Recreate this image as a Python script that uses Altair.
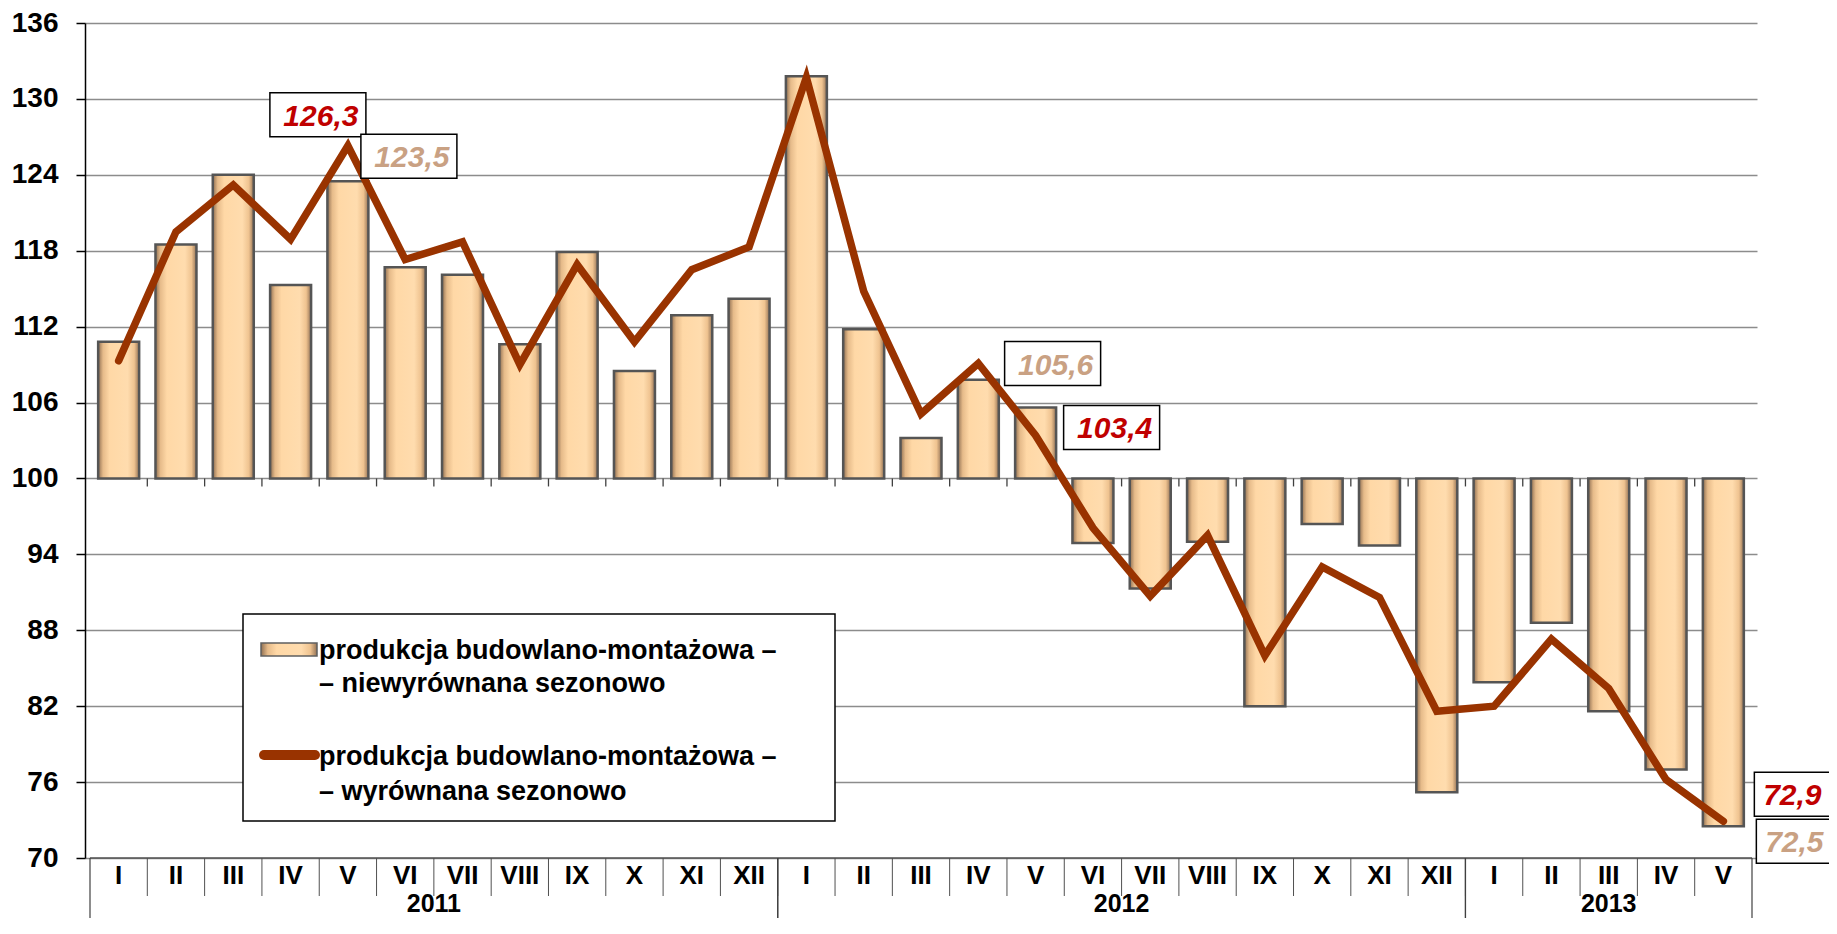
import altair as alt
import pandas as pd

# ---------------- data ----------------
months = ["I", "II", "III", "IV", "V", "VI", "VII", "VIII", "IX", "X", "XI", "XII",
          "I", "II", "III", "IV", "V", "VI", "VII", "VIII", "IX", "X", "XI", "XII",
          "I", "II", "III", "IV", "V"]
years = ["2011"] * 12 + ["2012"] * 12 + ["2013"] * 5

# produkcja budowlano-montażowa – niewyrównana sezonowo (bars, base = 100)
unadjusted = [110.8, 118.5, 124.0, 115.3, 123.5, 116.7, 116.1, 110.6, 117.9, 108.5, 112.9, 114.2,
              131.8, 111.8, 103.2, 107.8, 105.6, 94.9, 91.3, 95.0, 82.0, 96.4, 94.7, 75.2,
              83.9, 88.6, 81.6, 77.0, 72.5]
# produkcja budowlano-montażowa – wyrównana sezonowo (line)
adjusted = [109.3, 119.5, 123.2, 118.9, 126.3, 117.3, 118.7, 109.0, 116.9, 110.8, 116.5, 118.3,
            131.7, 114.8, 105.1, 109.1, 103.4, 96.1, 90.7, 95.5, 86.0, 93.0, 90.6, 81.6,
            82.0, 87.3, 83.4, 76.2, 72.9]

y_ticks = [70, 76, 82, 88, 94, 100, 106, 112, 118, 124, 130, 136]
base_value = 100

legend_labels = ["produkcja budowlano-montażowa –\n– niewyrównana sezonowo",
                 "produkcja budowlano-montażowa –\n– wyrównana sezonowo"]

# ---------------- styling ----------------
FONT = "Liberation Sans"
RED = "#C00000"
TAN = "#C9A183"
LINE_COLOR = "#993300"

# callouts: (category index, series, text colour, box offset x, box offset y, text shift x)
callouts = [
    (4, "line", RED, -30, -31, 3),
    (4, "bar", TAN, 61, -25, 3),
    (16, "bar", TAN, 17, -44, 3),
    (16, "line", RED, 76, -8, 3),
    (28, "line", RED, 79, -27, -10),
    (28, "bar", TAN, 81, 15, -10),
]

df = pd.DataFrame({
    "idx": list(range(len(months))),
    "month": months,
    "year": years,
    "bar": unadjusted,
    "line": adjusted,
})
one = pd.DataFrame({"k": [0]})

bar_fill = alt.Gradient(
    gradient="linear",
    stops=[
        alt.GradientStop(color="#8f6f52", offset=0),
        alt.GradientStop(color="#e6bb8a", offset=0.12),
        alt.GradientStop(color="#ffd8a6", offset=0.28),
        alt.GradientStop(color="#ffdcae", offset=0.72),
        alt.GradientStop(color="#efc390", offset=0.88),
        alt.GradientStop(color="#947356", offset=1),
    ],
    x1=0, x2=1, y1=0, y2=0,
)

xscale = alt.Scale(domain=[0, len(months)], nice=False, zero=False)
yscale = alt.Scale(domain=[y_ticks[0], y_ticks[-1]], nice=False, zero=False)
yaxis = alt.Axis(values=y_ticks, title=None, labelFont=FONT, labelFontSize=28,
                 labelFontWeight="bold", labelColor="black", tickSize=9,
                 tickColor="black", tickWidth=1.5, domainColor="black",
                 domainWidth=1.5, grid=True, gridColor="#8c8c8c", gridWidth=1.3,
                 labelPadding=18)


def X(field):
    return alt.X(field, type="quantitative", scale=xscale, axis=None)


def Y(field):
    return alt.Y(field, type="quantitative", scale=yscale, axis=yaxis)


def Yd(v):
    return alt.Y(datum=v, type="quantitative", scale=yscale, axis=yaxis)


base = alt.Chart(df).transform_calculate(c="datum.idx + 0.5")

bars = base.mark_bar(size=41, fill=bar_fill, stroke="#555555", strokeWidth=2.5).encode(
    x=X("c"), y=Y("bar"), y2=alt.Y2(datum=base_value)
)

ticks100 = base.transform_filter("datum.idx > 0").mark_rule(
    color="#404040", strokeWidth=1.3, y2Offset=8
).encode(x=X("idx"), y=Yd(base_value), y2=alt.Y2(datum=base_value))

bottom_rule = alt.Chart(one).mark_rule(color="#555555", strokeWidth=1.5).encode(
    x=alt.X(datum=0, type="quantitative", scale=xscale, axis=None),
    x2=alt.X2(datum=len(months)),
    y=Yd(y_ticks[0]),
)

month_seps = base.transform_filter("datum.idx > 0").mark_rule(
    color="#505050", strokeWidth=1, y2Offset=38
).encode(x=X("idx"), y=Yd(y_ticks[0]), y2=alt.Y2(datum=y_ticks[0]))

month_labels = base.mark_text(
    font=FONT, fontSize=26, fontWeight="bold", baseline="middle", dy=18, color="black"
).encode(x=X("c"), y=Yd(y_ticks[0]), text="month:N")

yagg = alt.Chart(df).transform_aggregate(
    lo="min(idx)", hi="max(idx)", groupby=["year"]
).transform_calculate(mid="(datum.lo + datum.hi + 1) / 2", end="datum.hi + 1")

year_seps_lo = yagg.mark_rule(color="#404040", strokeWidth=1.2, y2Offset=60).encode(
    x=X("lo"), y=Yd(y_ticks[0]), y2=alt.Y2(datum=y_ticks[0])
)
year_seps_hi = yagg.mark_rule(color="#404040", strokeWidth=1.2, y2Offset=60).encode(
    x=X("end"), y=Yd(y_ticks[0]), y2=alt.Y2(datum=y_ticks[0])
)
year_labels = yagg.mark_text(
    font=FONT, fontSize=25, fontWeight="bold", baseline="middle", dy=46, color="black"
).encode(x=X("mid"), y=Yd(y_ticks[0]), text="year:N")

line = base.mark_line(
    color=LINE_COLOR, strokeWidth=7.5, strokeCap="round", strokeJoin="miter"
).encode(x=X("c"), y=Y("line"))

callout_layers = []
for i, field, color, dx, dy, tdx in callouts:
    sel = base.transform_filter(alt.datum.idx == i).transform_calculate(
        lab=f"replace(format(datum.{field}, '.1f'), '.', ',')"
    )
    box = sel.mark_rect(
        fill="white", stroke="black", strokeWidth=1.5,
        xOffset=dx - 48, x2Offset=dx + 48, yOffset=dy - 22, y2Offset=dy + 22
    ).encode(x=X("c"), x2=alt.X2("c"), y=Y(field), y2=alt.Y2(field))
    txt = sel.mark_text(
        font=FONT, fontSize=30, fontWeight="bold", fontStyle="italic", color=color,
        align="center", baseline="alphabetic", dx=dx + tdx, dy=dy + 11
    ).encode(x=X("c"), y=Y(field), text="lab:N")
    callout_layers += [box, txt]

# legend (drawn as a boxed panel inside the plot)
leg_box = alt.Chart(one).mark_rect(fill="white", stroke="black", strokeWidth=1.5).encode(
    x=alt.value(158), x2=alt.value(750), y=alt.value(591), y2=alt.value(798)
)
leg_bar = alt.Chart(one).mark_rect(fill=bar_fill, stroke="#5f5f5f", strokeWidth=1.5).encode(
    x=alt.value(176), x2=alt.value(232), y=alt.value(620), y2=alt.value(633)
)
leg_line = alt.Chart(one).mark_rule(color=LINE_COLOR, strokeWidth=10, strokeCap="round").encode(
    x=alt.value(179), x2=alt.value(230), y=alt.value(732)
)
leg_text1 = alt.Chart(one).mark_text(
    text=legend_labels[0], lineBreak="\n", lineHeight=33, align="left", baseline="middle",
    font=FONT, fontSize=27, fontWeight="bold", color="black"
).encode(x=alt.value(234), y=alt.value(628))
leg_text2 = alt.Chart(one).mark_text(
    text=legend_labels[1], lineBreak="\n", lineHeight=35, align="left", baseline="middle",
    font=FONT, fontSize=27, fontWeight="bold", color="black"
).encode(x=alt.value(234), y=alt.value(734))

chart = alt.layer(
    bars, ticks100, bottom_rule, month_seps, month_labels, year_seps_lo, year_seps_hi,
    year_labels, line, *callout_layers, leg_box, leg_bar, leg_line, leg_text1, leg_text2
).properties(
    width=1672, height=835,
    autosize=alt.AutoSizeParams(type="none"),
    padding={"left": 77, "top": 15, "right": 72, "bottom": 60},
    background="white",
).configure_view(stroke="transparent")

chart.save("out.html", embed_options={"renderer": "svg", "actions": False})
